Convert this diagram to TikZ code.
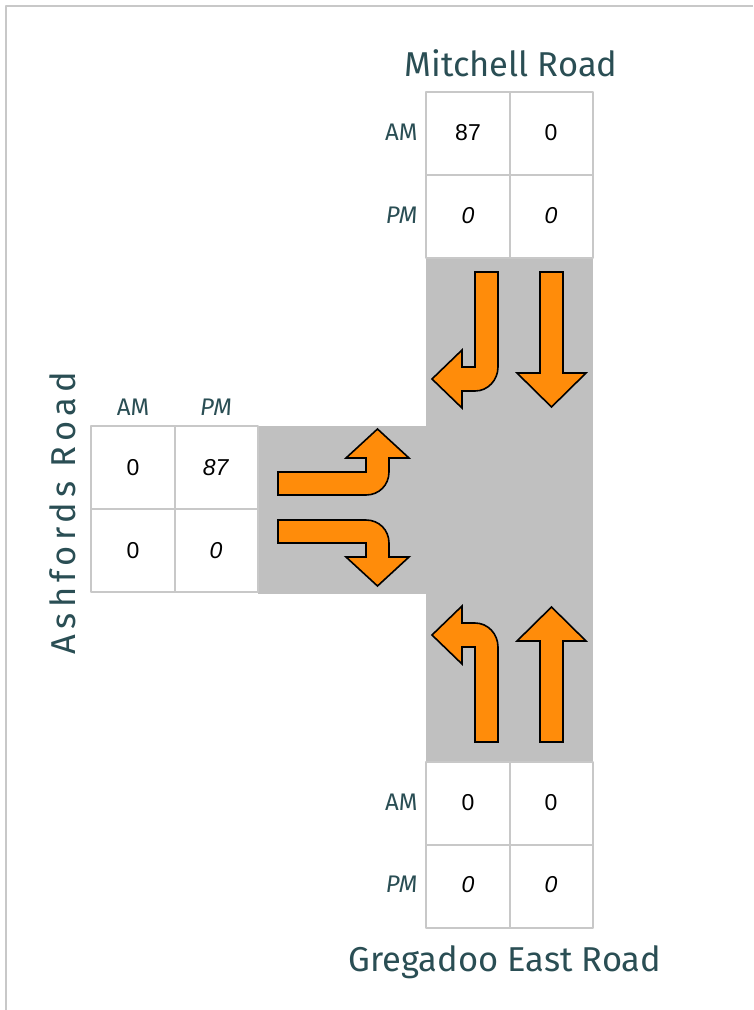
\documentclass[tikz,border=0pt]{standalone}
\usepackage{fontspec}
\setmainfont{Liberation Sans}
\newfontfamily\roadfont{Fira Sans}
\definecolor{road_gray}{RGB}{192,192,192}
\definecolor{grid_gray}{RGB}{200,200,200}
\definecolor{arrow_orange}{RGB}{255,140,10}
\definecolor{label_teal}{RGB}{42,78,84}

\begin{document}
\begin{tikzpicture}[x=1pt,y=-1pt,line join=round]
\tikzset{
  roadname/.style={text=label_teal,font=\roadfont\fontsize{34.5}{40}\selectfont},
  peaklabel/.style={text=label_teal,font=\roadfont\fontsize{24}{28}\selectfont},
  countval/.style={text=black,font=\fontsize{23}{27}\selectfont},
  turnarrow/.style={fill=arrow_orange,draw=black,line width=1.6pt,line join=miter},
  tablegrid/.style={draw=grid_gray,line width=2pt}
}
\useasboundingbox (0,0) rectangle (753,1010);

% frame
\draw[grid_gray,line width=2pt] (6,1010) -- (6,6) -- (753,6);

%-----------------------------------------------
% road surface
\fill[road_gray] (426,258) rectangle (593,762);
\fill[road_gray] (258,426) rectangle (426,594);

%-----------------------------------------------
% count tables
\foreach \x/\y in {426/92,91/426,426/762}
{
  \fill[white] (\x,\y) rectangle ++(167,166);
  \draw[tablegrid] (\x,\y) rectangle ++(167,166);
  \draw[tablegrid] (\x+83.5,\y) -- ++(0,166);
  \draw[tablegrid] (\x,\y+83) -- ++(167,0);
}

% Mitchell Road counts
\foreach \name/\x/\y/\val in {mrA/468/133/87,mrB/551/133/0,mrC/468/216/\textit{0},mrD/551/216/\textit{0}}
{
  \node[countval] (\name) at (\x,\y) {\val};
}
% Ashfords Road counts
\foreach \name/\x/\y/\val in {arA/133/468/0,arB/216/468/\textit{87},arC/133/551/0,arD/216/551/\textit{0}}
{
  \node[countval] (\name) at (\x,\y) {\val};
}
% Gregadoo East Road counts
\foreach \name/\x/\y/\val in {grA/468/803/0,grB/551/803/0,grC/468/885/\textit{0},grD/551/885/\textit{0}}
{
  \node[countval] (\name) at (\x,\y) {\val};
}

% AM / PM labels
\node[peaklabel,anchor=east] (mrAM) at (421,132) {AM};
\node[peaklabel,anchor=east] (mrPM) at (421,215) {\itshape PM};
\node[peaklabel] (arAM) at (133,407) {AM};
\node[peaklabel] (arPM) at (216,407) {\itshape PM};
\node[peaklabel,anchor=east] (grAM) at (421,802) {AM};
\node[peaklabel,anchor=east] (grPM) at (421,884) {\itshape PM};

% road names
\node[roadname] (mitchell) at (511,63) {Mitchell Road};
\node[roadname] (gregadoo) at (505,962) {Gregadoo East Road};
\node[roadname,rotate=90,font=\roadfont\fontsize{34.5}{40}\selectfont\addfontfeature{LetterSpace=15}] (ashfords) at (63,513) {Ashfords Road};

%-----------------------------------------------
% movement arrows, north approach
\draw[turnarrow] (475,272) -- (498,272) -- (498,367) .. controls (498,380) and (488,391) .. (475,391) -- (462,391) -- (462,408) -- (432,379) -- (462,350) -- (462,367) -- (475,367) -- cycle;
\draw[turnarrow] (540,272) -- (563,272) -- (563,373) -- (586,373) -- (551.5,407) -- (517,373) -- (540,373) -- cycle;

% west approach
\draw[turnarrow] (278,472) -- (366,472) -- (366,458) -- (346,458) -- (377.5,429) -- (409,458) -- (389,458) -- (389,472) .. controls (389,485) and (379,495) .. (366,495) -- (278,495) -- cycle;
\draw[turnarrow] (278,520) -- (366,520) .. controls (379,520) and (389,530) .. (389,543) -- (389,557) -- (409,557) -- (377.5,586) -- (346,557) -- (366,557) -- (366,543) -- (278,543) -- cycle;

% south approach
\draw[turnarrow] (475,742) -- (498,742) -- (498,647) .. controls (498,634) and (488,623) .. (475,623) -- (462,623) -- (462,606) -- (432,635) -- (462,664) -- (462,647) -- (475,647) -- cycle;
\draw[turnarrow] (540,742) -- (563,742) -- (563,641) -- (586,641) -- (551.5,607) -- (517,641) -- (540,641) -- cycle;

\end{tikzpicture}
\end{document}
